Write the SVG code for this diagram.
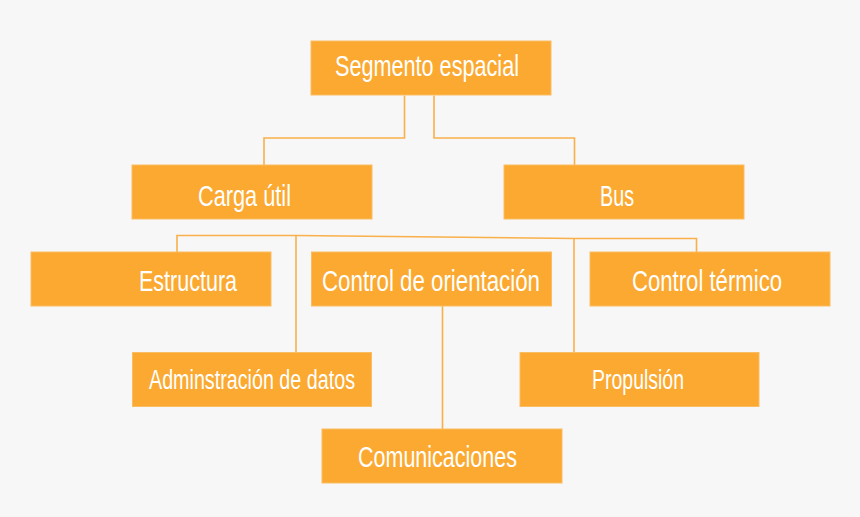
<svg xmlns="http://www.w3.org/2000/svg" width="860" height="517" viewBox="0 0 860 517">
<style>
.box{fill:#fba931;stroke:#fbbd63;stroke-width:1}
.lbl{font-family:"Liberation Sans Narrow","Liberation Sans",Arial,sans-serif;font-size:30px;fill:#ffffff}
.sm{font-size:27px}
.con{fill:none;stroke:#f9b04a;stroke-width:1.6}
</style>
<rect width="860" height="517" fill="#f7f7f7"/>
<g id="connectors">
<path class="con" d="M404.5,95.5 V138 H264 V165"/>
<path class="con" d="M434,95.5 V138 H574.5 V165"/>
<path class="con" d="M177,252 V235.5 H296 L574,238.5 H696.5 V252"/>
<path class="con" d="M296,235.5 V352"/>
<path class="con" d="M574,238.5 V352"/>
<path class="con" d="M442.5,306 V429"/>
</g>
<g id="segmento-espacial"><rect class="box" x="311" y="41" width="240" height="54"/><text class="lbl" x="335" y="76" textLength="184" lengthAdjust="spacingAndGlyphs">Segmento espacial</text></g>
<g id="carga-util"><rect class="box" x="132" y="165" width="240" height="54"/><text class="lbl" x="198" y="206" textLength="93" lengthAdjust="spacingAndGlyphs">Carga útil</text></g>
<g id="bus"><rect class="box" x="504" y="165" width="240" height="54"/><text class="lbl" x="600" y="206" textLength="34" lengthAdjust="spacingAndGlyphs">Bus</text></g>
<g id="estructura"><rect class="box" x="31" y="252" width="240" height="54"/><text class="lbl" x="139" y="290.5" textLength="98" lengthAdjust="spacingAndGlyphs">Estructura</text></g>
<g id="control-orientacion"><rect class="box" x="311.5" y="252" width="240" height="54"/><text class="lbl" x="322" y="290.5" textLength="218" lengthAdjust="spacingAndGlyphs">Control de orientación</text></g>
<g id="control-termico"><rect class="box" x="590" y="252" width="240" height="54"/><text class="lbl" x="632" y="290.5" textLength="150" lengthAdjust="spacingAndGlyphs">Control térmico</text></g>
<g id="adminstracion-datos"><rect class="box" x="132.5" y="352.5" width="239" height="54"/><text class="lbl sm" x="149" y="389" textLength="206" lengthAdjust="spacingAndGlyphs">Adminstración de datos</text></g>
<g id="propulsion"><rect class="box" x="520" y="352.5" width="239" height="54"/><text class="lbl sm" x="592" y="389" textLength="92" lengthAdjust="spacingAndGlyphs">Propulsión</text></g>
<g id="comunicaciones"><rect class="box" x="322" y="429" width="240" height="54"/><text class="lbl" x="358" y="467" textLength="159" lengthAdjust="spacingAndGlyphs">Comunicaciones</text></g>
</svg>
